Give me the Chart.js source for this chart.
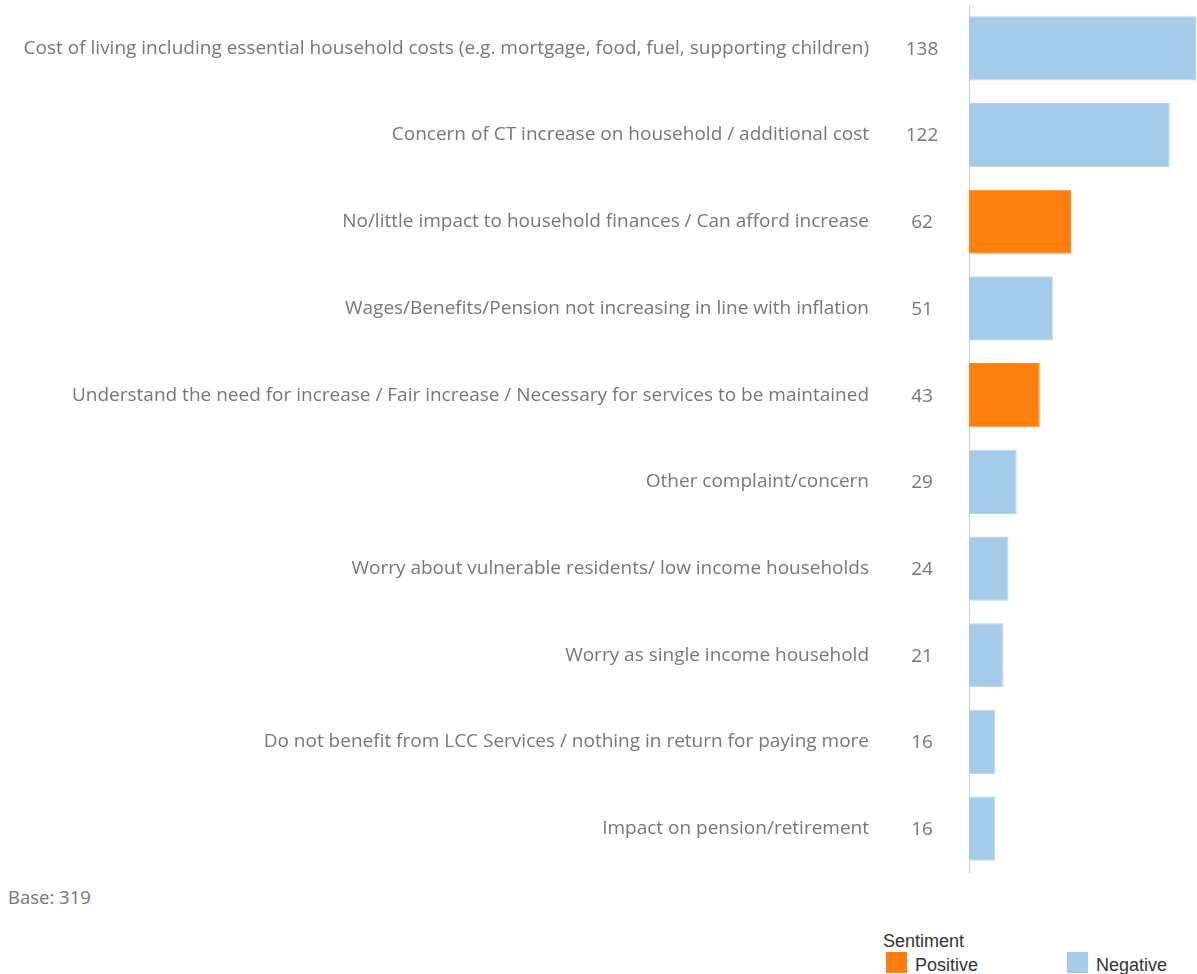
<!DOCTYPE html>
<html>
<head>
<meta charset="utf-8">
<script src="https://cdn.jsdelivr.net/npm/chart.js@4.4.1/dist/chart.umd.min.js"></script>
<style>
  html, body { margin: 0; padding: 0; background: #fff; }
  #wrap { position: relative; width: 1197px; height: 974px; overflow: hidden; }
  #c { position: absolute; left: 0; top: 0; }
  .base { position: absolute; left: 8px; top: 885px; font: 18.5px "Open Sans", sans-serif; color: #777; line-height: 24px; }
  .legtitle { position: absolute; left: 883px; top: 930px; font: 18px "Liberation Sans", Arial, sans-serif; color: #333; line-height: 22px; }
  .sw { position: absolute; width: 21px; height: 21px; }
  .lt { position: absolute; font: 18px "Liberation Sans", Arial, sans-serif; color: #333; line-height: 22px; }
</style>
</head>
<body>
<div id="wrap">
  <canvas id="c" width="1197" height="880"></canvas>
  <div class="base" id="base"></div>
  <div class="legtitle" id="legtitle"></div>
  <div class="sw" id="swPos" style="left:886px; top:952px;"></div>
  <div class="lt" id="ltPos" style="left:915px; top:954px;"></div>
  <div class="sw" id="swNeg" style="left:1067px; top:952px;"></div>
  <div class="lt" id="ltNeg" style="left:1096px; top:954px;"></div>
</div>
<script>
const categories = [
  "Cost of living including essential household costs (e.g. mortgage, food, fuel, supporting children)",
  "Concern of CT increase on household / additional cost",
  "No/little impact to household finances / Can afford increase",
  "Wages/Benefits/Pension not increasing in line with inflation",
  "Understand the need for increase / Fair increase / Necessary for services to be maintained",
  "Other complaint/concern",
  "Worry about vulnerable residents/ low income households",
  "Worry as single income household",
  "Do not benefit from LCC Services / nothing in return for paying more",
  "Impact on pension/retirement"
];
const counts = [138, 122, 62, 51, 43, 29, 24, 21, 16, 16];
const sentiment = ["Negative", "Negative", "Positive", "Negative", "Positive", "Negative", "Negative", "Negative", "Negative", "Negative"];
const legendTitle = "Sentiment";
const sentimentNames = ["Positive", "Negative"];
const baseText = "Base: 319";

const colors = { Positive: "#fd7f0f", Negative: "#a6cbe8" };

document.getElementById('base').textContent = baseText;
document.getElementById('legtitle').textContent = legendTitle;
document.getElementById('swPos').style.background = colors.Positive;
document.getElementById('swNeg').style.background = colors.Negative;
document.getElementById('ltPos').textContent = sentimentNames[0];
document.getElementById('ltNeg').textContent = sentimentNames[1];

// fit label font size so the longest label spans like the reference
const FAMILY = '"Open Sans", sans-serif';
const mctx = document.createElement('canvas').getContext('2d');
mctx.font = '100px ' + FAMILY;
const w100 = mctx.measureText(categories[0]).width;
const labelSize = Math.round(100 * 847 / w100 * 10) / 10;

const datasets = sentimentNames.map(s => ({
  label: s,
  data: counts.map((v, i) => sentiment[i] === s ? v : null),
  backgroundColor: colors[s],
  borderColor: s === "Negative" ? "#b4d5ee" : "#ff8c24",
  borderWidth: 1,
  barPercentage: 0.74,
  categoryPercentage: 1.0,
  stack: "s"
}));

const valuePlugin = {
  id: 'values',
  afterDraw(chart) {
    const ctx = chart.ctx;
    const y = chart.scales.y;
    ctx.save();
    ctx.font = labelSize + 'px ' + FAMILY;
    ctx.fillStyle = '#777';
    ctx.textAlign = 'center';
    ctx.textBaseline = 'middle';
    counts.forEach((v, i) => {
      ctx.fillText(String(v), 922, y.getPixelForValue(i) + 1);
    });
    ctx.restore();
  }
};

new Chart(document.getElementById('c'), {
  type: 'bar',
  data: { labels: categories, datasets },
  options: {
    indexAxis: 'y',
    responsive: false,
    animation: false,
    layout: { padding: { top: 5, bottom: 8, right: 1, left: 0 } },
    plugins: { legend: { display: false }, tooltip: { enabled: false } },
    scales: {
      x: {
        display: false,
        min: 0,
        max: 138,
        stacked: true
      },
      y: {
        stacked: true,
        grid: { display: false, drawTicks: false },
        border: { display: true, color: '#cfcfcf', dash: [1, 3], width: 1 },
        ticks: {
          padding: 100,
          color: '#777',
          font: { family: FAMILY, size: labelSize },
          autoSkip: false
        },
        afterFit(scale) {
          scale.width = 969;
          scale.paddingTop = 0;
          scale.paddingBottom = 0;
        }
      }
    }
  },
  plugins: [valuePlugin]
});
</script>
</body>
</html>
